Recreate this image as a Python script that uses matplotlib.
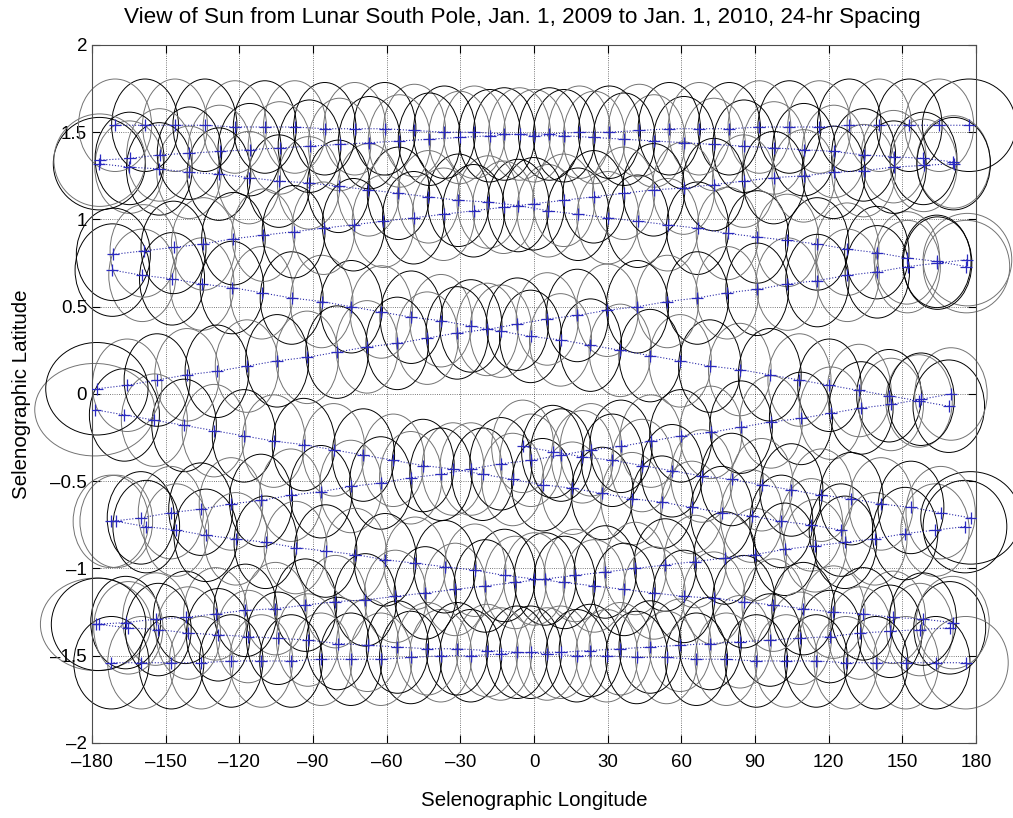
import numpy as np
import matplotlib
matplotlib.use('Agg')
import matplotlib.pyplot as plt
from matplotlib.patches import Ellipse
from matplotlib.ticker import FuncFormatter

plt.rcParams['font.family'] = ['Liberation Sans', 'DejaVu Sans']

# Sub-solar point, one sample per day, Jan 1 2009 .. Jan 1 2010
# (each line = one lunation sweep from east to west)
lon = [
    125.0, 112.9, 100.7, 88.6, 76.4, 64.3, 52.1, 39.9, 27.8, 15.6, 3.5, -8.7, -20.9, -33.0, -45.2, -57.3,
    -69.5, -81.6, -93.8, -106.0, -118.1, -130.3, -142.5, -154.6, -166.8, -178.9,
    168.9, 156.8, 144.6, 132.4, 120.3, 108.1, 96.0, 83.8, 71.6, 59.5, 47.3, 35.1, 23.0, 10.8, -1.4, -13.5,
    -25.7, -37.9, -50.0, -62.2, -74.4, -86.5, -98.7, -110.9, -123.0, -135.2, -147.4, -159.5, -171.7,
    176.1, 164.0, 151.8, 139.6, 127.5, 115.3, 103.1, 90.9, 78.8, 66.6, 54.4, 42.2, 30.1, 17.9, 5.7, -6.5,
    -18.7, -30.8, -43.0, -55.2, -67.4, -79.6, -91.7, -103.9, -116.1, -128.3, -140.5, -152.6, -164.8, -177.0,
    170.8, 158.6, 146.4, 134.2, 122.1, 109.9, 97.7, 85.5, 73.3, 61.1, 48.9, 36.7, 24.5, 12.3, 0.1, -12.1,
    -24.3, -36.5, -48.7, -60.8, -73.0, -85.2, -97.4, -109.6, -121.8, -134.0, -146.2, -158.4, -170.6,
    177.2, 165.0, 152.8, 140.6, 128.4, 116.2, 104.0, 91.8, 79.5, 67.3, 55.1, 42.9, 30.7, 18.5, 6.3, -5.9,
    -18.1, -30.3, -42.6, -54.8, -67.0, -79.2, -91.4, -103.6, -115.8, -128.0, -140.3, -152.5, -164.7, -176.9,
    170.9, 158.7, 146.5, 134.2, 122.0, 109.8, 97.6, 85.4, 73.2, 60.9, 48.7, 36.5, 24.3, 12.1, -0.2, -12.4,
    -24.6, -36.8, -49.0, -61.3, -73.5, -85.7, -97.9, -110.2, -122.4, -134.6, -146.8, -159.0, -171.3,
    176.5, 164.3, 152.1, 139.8, 127.6, 115.4, 103.2, 90.9, 78.7, 66.5, 54.3, 42.1, 29.8, 17.6, 5.4, -6.8,
    -19.1, -31.3, -43.5, -55.7, -68.0, -80.2, -92.4, -104.6, -116.9, -129.1, -141.3, -153.5, -165.7, -178.0,
    169.8, 157.6, 145.4, 133.2, 120.9, 108.7, 96.5, 84.3, 72.0, 59.8, 47.6, 35.4, 23.2, 11.0, -1.3, -13.5,
    -25.7, -37.9, -50.2, -62.4, -74.6, -86.8, -99.0, -111.2, -123.4, -135.7, -147.9, -160.1, -172.3,
    175.5, 163.3, 151.1, 138.8, 126.6, 114.4, 102.2, 90.0, 77.8, 65.6, 53.4, 41.2, 29.0, 16.8, 4.5, -7.7,
    -19.9, -32.1, -44.3, -56.5, -68.7, -80.9, -93.1, -105.3, -117.5, -129.7, -141.9, -154.1, -166.3, -178.5,
    169.3, 157.1, 144.9, 132.7, 120.5, 108.3, 96.1, 83.9, 71.7, 59.5, 47.3, 35.1, 22.9, 10.8, -1.4, -13.6,
    -25.8, -38.0, -50.2, -62.4, -74.6, -86.8, -98.9, -111.1, -123.3, -135.5, -147.7, -159.9, -172.1,
    175.8, 163.6, 151.4, 139.2, 127.0, 114.9, 102.7, 90.5, 78.3, 66.1, 54.0, 41.8, 29.6, 17.4, 5.3, -6.9,
    -19.1, -31.3, -43.4, -55.6, -67.8, -80.0, -92.1, -104.3, -116.5, -128.6, -140.8, -153.0, -165.2, -177.3,
    170.5, 158.4, 146.2, 134.0, 121.9, 109.7, 97.5, 85.4, 73.2, 61.0, 48.9, 36.7, 24.5, 12.4, 0.2, -12.0,
    -24.1, -36.3, -48.4, -60.6, -72.8, -84.9, -97.1, -109.3, -121.4, -133.6, -145.7, -157.9, -170.1,
    177.8, 165.6, 153.5, 141.3, 129.2, 117.0, 104.8, 92.7, 80.5, 68.4, 56.2, 44.0, 31.9, 19.7, 7.6, -4.6,
]
lat = [
    -0.78, -0.75, -0.73, -0.70, -0.68, -0.65, -0.62, -0.60, -0.57, -0.54, -0.52, -0.49, -0.46, -0.43, -0.41, -0.38,
    -0.35, -0.32, -0.29, -0.27, -0.24, -0.21, -0.18, -0.15, -0.12, -0.09,
    -0.07, -0.04, -0.01, 0.02, 0.05, 0.08, 0.11, 0.14, 0.16, 0.19, 0.22, 0.25, 0.28, 0.31, 0.33, 0.36,
    0.39, 0.42, 0.44, 0.47, 0.50, 0.53, 0.55, 0.58, 0.61, 0.63, 0.66, 0.68, 0.71,
    0.73, 0.76, 0.78, 0.81, 0.83, 0.86, 0.88, 0.90, 0.92, 0.95, 0.97, 0.99, 1.01, 1.03, 1.05, 1.08,
    1.10, 1.11, 1.13, 1.15, 1.17, 1.19, 1.21, 1.22, 1.24, 1.26, 1.27, 1.29, 1.30, 1.32,
    1.33, 1.35, 1.36, 1.37, 1.39, 1.40, 1.41, 1.42, 1.43, 1.44, 1.45, 1.46, 1.47, 1.48, 1.48, 1.49,
    1.50, 1.50, 1.51, 1.52, 1.52, 1.52, 1.53, 1.53, 1.53, 1.54, 1.54, 1.54, 1.54,
    1.54, 1.54, 1.54, 1.54, 1.54, 1.53, 1.53, 1.53, 1.52, 1.52, 1.52, 1.51, 1.50, 1.50, 1.49, 1.49,
    1.48, 1.47, 1.46, 1.45, 1.44, 1.43, 1.42, 1.41, 1.40, 1.39, 1.38, 1.37, 1.35, 1.34,
    1.32, 1.31, 1.30, 1.28, 1.27, 1.25, 1.24, 1.22, 1.20, 1.18, 1.17, 1.15, 1.13, 1.11, 1.09, 1.07,
    1.05, 1.03, 1.01, 0.99, 0.97, 0.95, 0.93, 0.91, 0.89, 0.86, 0.84, 0.82, 0.80,
    0.77, 0.75, 0.73, 0.70, 0.68, 0.65, 0.63, 0.60, 0.58, 0.55, 0.53, 0.50, 0.48, 0.45, 0.43, 0.40,
    0.37, 0.35, 0.32, 0.29, 0.27, 0.24, 0.21, 0.19, 0.16, 0.13, 0.11, 0.08, 0.05, 0.03,
    0.00, -0.03, -0.06, -0.08, -0.11, -0.14, -0.16, -0.19, -0.22, -0.24, -0.27, -0.30, -0.32, -0.35, -0.38, -0.40,
    -0.43, -0.46, -0.48, -0.51, -0.53, -0.56, -0.58, -0.61, -0.63, -0.66, -0.68, -0.71, -0.73,
    -0.76, -0.78, -0.80, -0.83, -0.85, -0.87, -0.89, -0.92, -0.94, -0.96, -0.98, -1.00, -1.02, -1.04, -1.06, -1.08,
    -1.10, -1.12, -1.14, -1.16, -1.18, -1.19, -1.21, -1.23, -1.24, -1.26, -1.28, -1.29, -1.31, -1.32,
    -1.34, -1.35, -1.36, -1.37, -1.39, -1.40, -1.41, -1.42, -1.43, -1.44, -1.45, -1.46, -1.47, -1.48, -1.48, -1.49,
    -1.50, -1.50, -1.51, -1.52, -1.52, -1.52, -1.53, -1.53, -1.53, -1.54, -1.54, -1.54, -1.54,
    -1.54, -1.54, -1.54, -1.54, -1.54, -1.53, -1.53, -1.53, -1.52, -1.52, -1.51, -1.51, -1.50, -1.50, -1.49, -1.48,
    -1.47, -1.46, -1.46, -1.45, -1.44, -1.43, -1.41, -1.40, -1.39, -1.38, -1.37, -1.35, -1.34, -1.32,
    -1.31, -1.29, -1.28, -1.26, -1.25, -1.23, -1.21, -1.19, -1.17, -1.16, -1.14, -1.12, -1.10, -1.08, -1.06, -1.04,
    -1.01, -0.99, -0.97, -0.95, -0.92, -0.90, -0.88, -0.85, -0.83, -0.81, -0.78, -0.76, -0.73,
    -0.71, -0.68, -0.65, -0.63, -0.60, -0.58, -0.55, -0.52, -0.49, -0.47, -0.44, -0.41, -0.38, -0.36, -0.33, -0.30,
]

x_ticks = list(range(-180, 181, 30))
y_ticks = [-2, -1.5, -1, -0.5, 0, 0.5, 1, 1.5, 2]

fig = plt.figure(figsize=(10.13, 8.18), dpi=100)
ax = fig.add_axes([0.0908, 0.0917, 0.8727, 0.8533])

# solar disk outlines (stretched in longitude, wider near the +/-180 seam)
for i, (x, y) in enumerate(zip(lon, lat)):
    rx = 12.5 + 25.0 / (181.0 - abs(x))
    col = 'black' if i % 2 == 0 else '0.45'
    ax.add_patch(Ellipse((x, y), 2 * rx, 0.53, fill=False, ec=col, lw=0.7,
                         clip_on=False, zorder=2))

# dotted daily track, broken where longitude wraps round
xa = np.array(lon)
ya = np.array(lat)
cut = np.where(np.abs(np.diff(xa)) > 180)[0] + 1
ax.plot(np.insert(xa, cut, np.nan), np.insert(ya, cut, np.nan), ':',
        color='#2a2aa8', lw=0.8, zorder=3)
ax.plot(xa, ya, '+', color='#2a2ac0', ms=8, mew=0.9, ls='none', zorder=4)

ax.set_xlim(-180, 180)
ax.set_ylim(-2, 2)
ax.set_xticks(x_ticks)
ax.set_yticks(y_ticks)
fmt = FuncFormatter(lambda v, p: f'{v:g}'.replace('-', '\u2013'))
ax.xaxis.set_major_formatter(fmt)
ax.yaxis.set_major_formatter(fmt)
ax.grid(True, linestyle=':', color='black', lw=0.6, alpha=0.7)
ax.tick_params(direction='in', top=True, right=True, length=6, labelsize=13.5, width=0.8)
ax.tick_params(axis='x', pad=8)
for s in ax.spines.values():
    s.set_linewidth(0.8)
    s.set_color('0.3')

ax.set_title('View of Sun from Lunar South Pole, Jan. 1, 2009 to Jan. 1, 2010, 24-hr Spacing',
             fontsize=16.2, pad=16, x=0.487)
ax.set_xlabel('Selenographic Longitude', fontsize=14.8, labelpad=14)
ax.set_ylabel('Selenographic Latitude', fontsize=14.8, labelpad=14)

fig.savefig('out.png', dpi=100)
